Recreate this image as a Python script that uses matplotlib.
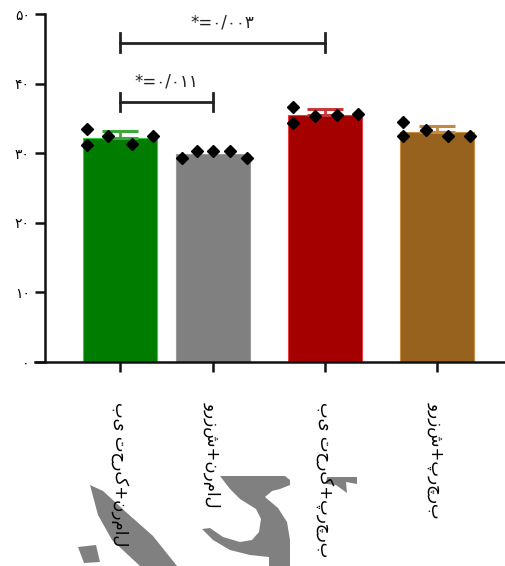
import numpy as np
import matplotlib
matplotlib.use("Agg")
import matplotlib.pyplot as plt
from matplotlib.patches import Polygon

# ---- data ----
groups = ["بی تحرک+نرمال", "ورزش+نرمال", "بی تحرک+پرچرب", "ورزش+پرچرب"]
green_pts = [33.5, 31.2, 32.5, 31.3, 32.5]
gray_pts = [29.3, 30.3, 30.3, 30.3, 29.3]
red_pts = [36.7, 34.4, 35.3, 35.5, 35.6]
brown_pts = [34.5, 32.4, 33.4, 32.4, 32.4]
yticks = [0, 10, 20, 30, 40, 50]
ytick_labels = ["۰", "۱۰", "۲۰", "۳۰", "۴۰", "۵۰"]
sig_pairs = [(0, 1), (0, 2)]
sig_labels = ["*=۰/۰۱۱", "*=۰/۰۰۳"]
sig_heights = [37.4, 45.9]

# ---- layout / style ----
series = [green_pts, gray_pts, red_pts, brown_pts]
xpos = [0.0, 0.83, 1.83, 2.83]
bar_colors = ["#007d00", "#808080", "#a50000", "#96621e"]
edge_colors = ["#3cc83c", "#9a9a9a", "#e04040", "#c89040"]
cap_colors = ["#3aa83a", "#808080", "#c83a3a", "#c08a40"]
pt_offsets = [[-0.295, -0.295, -0.107, 0.107, 0.295],
              [-0.28, -0.14, 0.0, 0.15, 0.30],
              [-0.285, -0.285, -0.09, 0.107, 0.295],
              [-0.30, -0.30, -0.10, 0.10, 0.295]]
bar_w = 0.66

W, H = 505, 566
fig = plt.figure(figsize=(W / 100, H / 100), dpi=100)

# watermark-like gray shapes (decoration, drawn behind everything)
wm = "#808080"
def px(points):
    return [(x / W, 1 - y / H) for x, y in points]
shapes = [
    [(90, 485), (103, 491), (127, 513), (153, 536), (177, 566), (140, 566),
     (112, 540), (98, 515)],
    [(78, 547), (96, 545), (100, 562), (84, 563)],
    [(220, 476), (285, 476), (290, 480), (290, 485), (280, 489), (272, 491),
     (265, 497), (278, 508), (287, 522), (290, 540), (290, 566), (269, 566),
     (269, 557), (250, 555), (230, 550), (213, 540), (202, 529), (210, 528),
     (223, 537), (240, 542), (252, 540), (259, 532), (261, 519), (256, 509),
     (240, 499), (230, 489)],
    [(327, 477), (357, 477), (357, 484), (346, 482), (347, 493), (336, 485),
     (326, 484)],
]
for sh in shapes:
    fig.patches.append(Polygon(px(sh), closed=True, transform=fig.transFigure,
                               facecolor=wm, edgecolor="none", zorder=-5))

ax = fig.add_axes([35 / W, (H - 362) / H, 1 - 35 / W, (362 - 14) / H])
ax.set_zorder(2)
ax.patch.set_alpha(0)

means = [np.mean(s) for s in series]
sds = [np.std(s, ddof=1) for s in series]

for i, s in enumerate(series):
    ax.bar(xpos[i], means[i], width=bar_w, color=bar_colors[i],
           edgecolor=edge_colors[i], linewidth=0.8, zorder=2)
    if i != 1:
        ax.errorbar(xpos[i], means[i], yerr=[[0], [sds[i]]], fmt="none",
                    ecolor=cap_colors[i], elinewidth=2, capsize=13,
                    capthick=2.2, zorder=3)
    ax.plot([xpos[i] + o for o in pt_offsets[i]], s, linestyle="none",
            marker="D", markersize=6.5, color="black", zorder=4)

# significance brackets
for (a, b), lab, h in zip(sig_pairs, sig_labels, sig_heights):
    ax.plot([xpos[a], xpos[b]], [h, h], color="#222222", lw=2.0, zorder=3)
    for xx in (xpos[a], xpos[b]):
        ax.plot([xx, xx], [h - 1.3, h + 1.3], color="#222222", lw=2.0, zorder=3)
    ax.text((xpos[a] + xpos[b]) / 2, h + 1.6, lab, ha="center", va="bottom",
            fontsize=12, family=["DejaVu Sans"], color="#222222")

ax.set_xlim(-0.76, 3.44)
ax.set_ylim(0, 50)
ax.spines["left"].set_position(("data", -0.67))
ax.spines["left"].set_bounds(0, 50)
for s in ("top", "right"):
    ax.spines[s].set_visible(False)
ax.spines["left"].set_linewidth(1.8)
ax.spines["bottom"].set_linewidth(1.8)
ax.spines["left"].set_color("#111111")
ax.spines["bottom"].set_color("#111111")

ax.set_yticks(yticks)
ax.set_yticklabels(ytick_labels, family=["DejaVu Sans"], fontsize=10)
ax.set_xticks(xpos)
ax.set_xticklabels(groups, rotation=-90, ha="center", va="top",
                   family=["DejaVu Sans"], fontsize=12)
ax.tick_params(axis="y", length=7, width=1.8, pad=4, color="#111111")
ax.tick_params(axis="x", length=7, width=1.8, pad=22, color="#111111")

fig.savefig("out.png", dpi=100)
